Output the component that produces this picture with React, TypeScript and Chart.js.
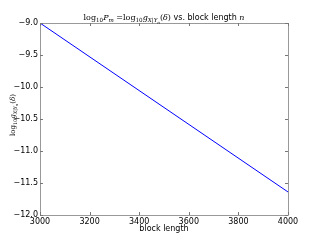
import React, { useEffect, useRef } from "react";
import { Chart, registerables } from "chart.js";

Chart.register(...registerables);

const blockLengths = [3000, 4000];
const logValues = [-9.0, -11.64];
const xTicks = [3000, 3200, 3400, 3600, 3800, 4000];
const yTicks = [-12.0, -11.5, -11.0, -10.5, -10.0, -9.5, -9.0];
const xLabel = "block length";

type Seg = { t: string; sub?: number; it?: boolean; sans?: boolean };

const titleSegs: Seg[] = [
  { t: "log" },
  { t: "10", sub: 1 },
  { t: "P", it: true },
  { t: "m", sub: 1, it: true },
  { t: " =log" },
  { t: "10", sub: 1 },
  { t: "g", it: true },
  { t: "X|Y", sub: 1, it: true },
  { t: "n", sub: 2, it: true },
  { t: "(" },
  { t: "δ", it: true },
  { t: ")" },
  { t: " vs. block length ", sans: true },
  { t: "n", it: true },
];

const yLabelSegs: Seg[] = [
  { t: "log" },
  { t: "10", sub: 1 },
  { t: "g", it: true },
  { t: "X|Y", sub: 1, it: true },
  { t: "n", sub: 2, it: true },
  { t: "(" },
  { t: "δ", it: true },
  { t: ")" },
];

function segFont(s: Seg, base: number) {
  const size = s.sub === 2 ? base * 0.5 : s.sub ? base * 0.7 : base;
  const fam = s.sans ? "'DejaVu Sans'" : "'DejaVu Serif'";
  return `${s.it ? "italic " : ""}${size}px ${fam}`;
}

function drawRich(ctx: CanvasRenderingContext2D, segs: Seg[], x: number, y: number, base: number) {
  let w = 0;
  for (const s of segs) {
    ctx.font = segFont(s, base);
    w += ctx.measureText(s.t).width;
  }
  let cx = x - w / 2;
  ctx.textBaseline = "alphabetic";
  ctx.textAlign = "left";
  for (const s of segs) {
    ctx.font = segFont(s, base);
    const dy = s.sub === 2 ? base * 0.45 : s.sub ? base * 0.3 : 0;
    ctx.fillText(s.t, cx, y + dy);
    cx += ctx.measureText(s.t).width;
  }
}

const decor = {
  id: "decor",
  afterDraw(chart: any) {
    const ctx: CanvasRenderingContext2D = chart.ctx;
    const a = chart.chartArea;
    const xs = chart.scales.x;
    const ys = chart.scales.y;
    ctx.save();
    ctx.strokeStyle = "#999";
    ctx.lineWidth = 1;
    ctx.beginPath();
    ctx.rect(a.left + 0.5, a.top + 0.5, a.right - a.left, a.bottom - a.top);
    ctx.stroke();
    ctx.strokeStyle = "#777";
    ctx.beginPath();
    for (const v of xTicks) {
      const px = Math.round(xs.getPixelForValue(v)) + 0.5;
      ctx.moveTo(px, a.bottom);
      ctx.lineTo(px, a.bottom - 3);
      ctx.moveTo(px, a.top);
      ctx.lineTo(px, a.top + 3);
    }
    for (const v of yTicks) {
      const py = Math.round(ys.getPixelForValue(v)) + 0.5;
      ctx.moveTo(a.left, py);
      ctx.lineTo(a.left + 3, py);
      ctx.moveTo(a.right, py);
      ctx.lineTo(a.right - 3, py);
    }
    ctx.stroke();
    ctx.fillStyle = "#000";
    drawRich(ctx, titleSegs, (a.left + a.right) / 2, 20, 8);
    ctx.font = "8px 'DejaVu Sans'";
    ctx.textAlign = "center";
    ctx.textBaseline = "middle";
    ctx.fillText(xLabel, (a.left + a.right) / 2, 229);
    ctx.translate(12, (a.top + a.bottom) / 2 - 4);
    ctx.rotate(-Math.PI / 2);
    drawRich(ctx, yLabelSegs, 0, 3, 7);
    ctx.restore();
  },
};

export default function App() {
  const ref = useRef<HTMLCanvasElement>(null);
  useEffect(() => {
    document.body.style.margin = "0";
    const chart = new Chart(ref.current!, {
      type: "line",
      data: {
        datasets: [
          {
            data: blockLengths.map((x, i) => ({ x, y: logValues[i] })),
            borderColor: "#0000ff",
            borderWidth: 1,
            pointRadius: 0,
            fill: false,
          },
        ],
      },
      options: {
        responsive: false,
        animation: false,
        layout: { padding: { top: 23, right: 32, left: 0, bottom: 0 } },
        plugins: { legend: { display: false }, tooltip: { enabled: false }, title: { display: false } },
        scales: {
          x: {
            type: "linear",
            min: 3000,
            max: 4000,
            afterBuildTicks: (s: any) => {
              s.ticks = xTicks.map((v) => ({ value: v }));
            },
            afterFit: (s: any) => {
              s.height = 25;
            },
            grid: { display: false, drawTicks: false },
            border: { display: false },
            ticks: {
              color: "#000",
              font: { family: "'DejaVu Sans'", size: 8 },
              padding: 2,
              maxRotation: 0,
              autoSkip: false,
              callback: (v: any) => String(v),
            },
          },
          y: {
            type: "linear",
            min: -12,
            max: -9,
            afterBuildTicks: (s: any) => {
              s.ticks = yTicks.map((v) => ({ value: v }));
            },
            afterFit: (s: any) => {
              s.width = 40;
            },
            grid: { display: false, drawTicks: false },
            border: { display: false },
            ticks: {
              color: "#000",
              font: { family: "'DejaVu Sans'", size: 8 },
              padding: 2,
              autoSkip: false,
              callback: (v: any) => "−" + Math.abs(Number(v)).toFixed(1),
            },
          },
        },
      },
      plugins: [decor],
    });
    return () => chart.destroy();
  }, []);
  return <canvas ref={ref} width={320} height={240} style={{ display: "block" }} />;
}
